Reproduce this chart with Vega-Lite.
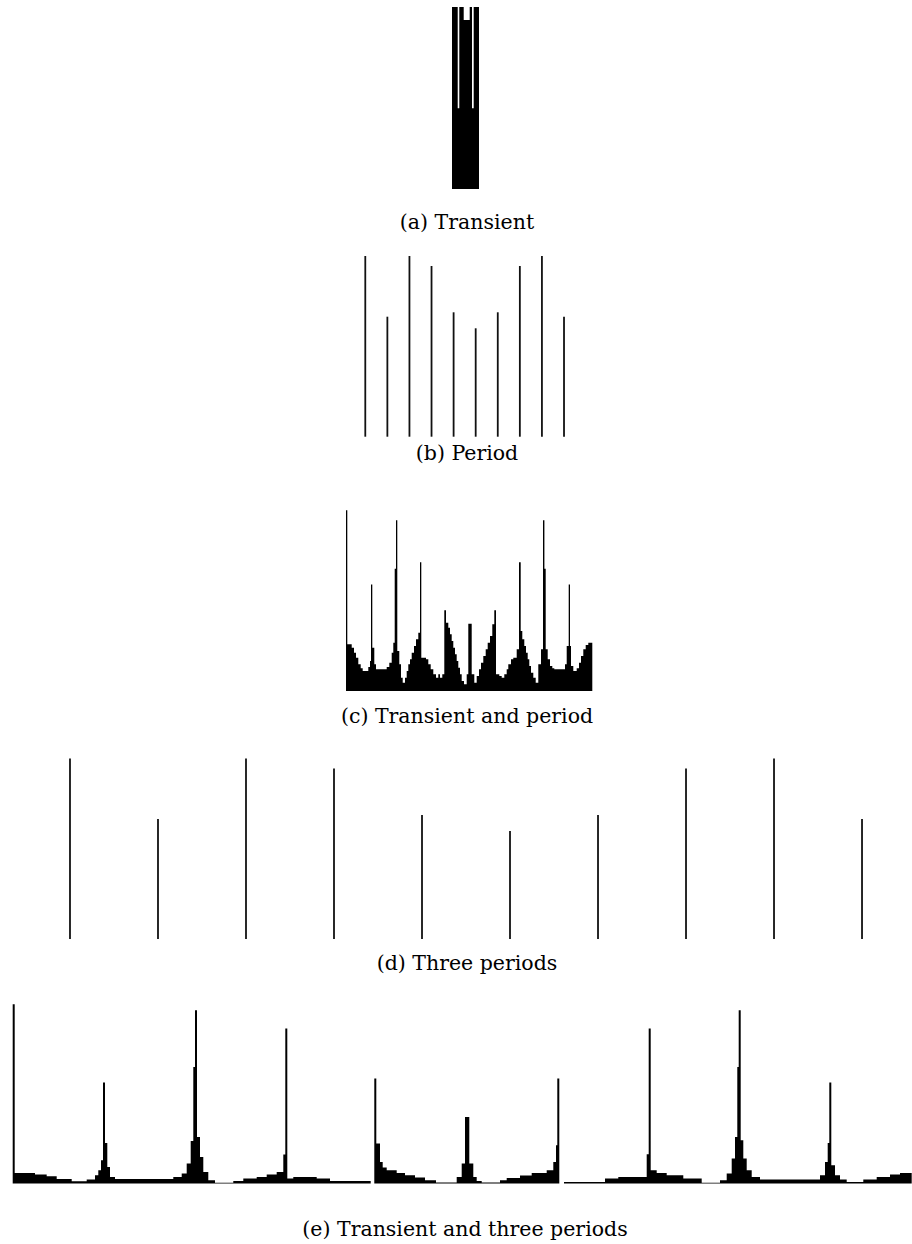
{
  "$schema": "https://vega.github.io/schema/vega-lite/v6.json",
  "background": "white",
  "padding": {"left": 12, "top": 7, "right": 0, "bottom": 0},
  "spacing": 0,
  "bounds": "flush",
  "config": {
    "view": {"stroke": null},
    "title": {"font": "DejaVu Serif", "fontSize": 20.5, "fontWeight": "normal", "color": "#000000", "orient": "bottom", "anchor": "middle"}
  },
  "vconcat": [
    {
      "width": 900,
      "height": 182,
      "title": {"text": "(a) Transient", "offset": 23.8, "dx": 5},
      "data": {"values": [
        {"x": 0, "n": 182},
        {"x": 5.7, "n": 80.7},
        {"x": 7.3, "n": 182},
        {"x": 11.7, "n": 169},
        {"x": 17.7, "n": 182},
        {"x": 20, "n": 80.7},
        {"x": 21.7, "n": 182},
        {"x": 27, "n": 182}
      ]},
      "mark": {"type": "area", "interpolate": "step-after", "color": "#000000", "opacity": 1},
      "encoding": {
        "x": {"field": "x", "type": "quantitative", "scale": {"domain": [-440, 460], "nice": false, "zero": false}, "axis": null},
        "y": {"field": "n", "type": "quantitative", "stack": null, "scale": {"domain": [0, 182], "nice": false}, "axis": null}
      }
    },
    {
      "width": 900,
      "height": 247.7,
      "title": {"text": "(b) Period", "offset": 6.1, "dx": 5},
      "data": {"values": [
        {"i": 0, "n": 180.7}, {"i": 1, "n": 120}, {"i": 2, "n": 180.7}, {"i": 3, "n": 170.7}, {"i": 4, "n": 124.4},
        {"i": 5, "n": 108.4}, {"i": 6, "n": 124.4}, {"i": 7, "n": 170.7}, {"i": 8, "n": 180.7}, {"i": 9, "n": 120}
      ]},
      "mark": {"type": "rule", "color": "#111111", "strokeWidth": 1.8},
      "encoding": {
        "x": {"field": "i", "type": "quantitative", "scale": {"domain": [-16, 24.76], "nice": false, "zero": false}, "axis": null},
        "y": {"field": "n", "type": "quantitative", "scale": {"domain": [0, 247.7], "nice": false}, "axis": null},
        "y2": {"datum": 0}
      }
    },
    {
      "width": 900,
      "height": 254,
      "title": {"text": "(c) Transient and period", "offset": 16.1, "dx": 5},
      "data": {"values": [
        {"x": 0, "n": 180.7},
        {"x": 1.3, "n": 46.7},
        {"x": 5.7, "n": 43.3},
        {"x": 8, "n": 38.3},
        {"x": 10, "n": 33.3},
        {"x": 12.3, "n": 26.7},
        {"x": 14.7, "n": 22.7},
        {"x": 16.7, "n": 20},
        {"x": 22.3, "n": 24},
        {"x": 24, "n": 30},
        {"x": 25, "n": 106.4},
        {"x": 26.3, "n": 43.3},
        {"x": 28.3, "n": 26.7},
        {"x": 30, "n": 21.7},
        {"x": 40.7, "n": 24},
        {"x": 43.3, "n": 28.3},
        {"x": 45.7, "n": 38.3},
        {"x": 47.3, "n": 48.3},
        {"x": 48.7, "n": 122.3},
        {"x": 50, "n": 170.7},
        {"x": 51.3, "n": 40},
        {"x": 53.3, "n": 26.7},
        {"x": 55, "n": 13.3},
        {"x": 56.7, "n": 8.3},
        {"x": 59, "n": 13.3},
        {"x": 60.7, "n": 20},
        {"x": 62.3, "n": 26.7},
        {"x": 64, "n": 31.7},
        {"x": 65.7, "n": 38.3},
        {"x": 68, "n": 45},
        {"x": 70, "n": 51.7},
        {"x": 72.3, "n": 58.3},
        {"x": 74, "n": 128.7},
        {"x": 75.3, "n": 33.3},
        {"x": 80, "n": 31.7},
        {"x": 82.3, "n": 26.7},
        {"x": 84.7, "n": 21.7},
        {"x": 87.3, "n": 16.7},
        {"x": 90, "n": 13.3},
        {"x": 92.3, "n": 16.7},
        {"x": 94, "n": 13.3},
        {"x": 96.3, "n": 16.7},
        {"x": 98.3, "n": 80.7},
        {"x": 100, "n": 68.3},
        {"x": 102.3, "n": 63.3},
        {"x": 104, "n": 56.7},
        {"x": 105.7, "n": 50},
        {"x": 107.3, "n": 43.3},
        {"x": 109, "n": 36.7},
        {"x": 110.7, "n": 30},
        {"x": 112.3, "n": 23.3},
        {"x": 114, "n": 16.7},
        {"x": 115.7, "n": 10},
        {"x": 118, "n": 6.7},
        {"x": 120.7, "n": 16.7},
        {"x": 122.3, "n": 67.3},
        {"x": 125.7, "n": 16.7},
        {"x": 128.3, "n": 8.3},
        {"x": 130.7, "n": 15},
        {"x": 133, "n": 21.7},
        {"x": 135, "n": 28.3},
        {"x": 137.3, "n": 35},
        {"x": 139.7, "n": 41.7},
        {"x": 141.7, "n": 48.3},
        {"x": 144, "n": 55},
        {"x": 146.3, "n": 66.7},
        {"x": 148.3, "n": 80.7},
        {"x": 150, "n": 16.7},
        {"x": 153.3, "n": 15},
        {"x": 155.7, "n": 13.3},
        {"x": 158.3, "n": 16.7},
        {"x": 160.7, "n": 21.7},
        {"x": 162.3, "n": 26.7},
        {"x": 165, "n": 31.7},
        {"x": 167.3, "n": 33.3},
        {"x": 170.7, "n": 41.7},
        {"x": 173, "n": 128.7},
        {"x": 174.7, "n": 60},
        {"x": 176.3, "n": 51.7},
        {"x": 178.3, "n": 45},
        {"x": 180, "n": 38.3},
        {"x": 181.7, "n": 31.7},
        {"x": 183.3, "n": 25},
        {"x": 185, "n": 18.3},
        {"x": 187.3, "n": 13.3},
        {"x": 189.7, "n": 8.3},
        {"x": 192.3, "n": 26.7},
        {"x": 195, "n": 41.7},
        {"x": 197, "n": 170.7},
        {"x": 198.4, "n": 122.3},
        {"x": 199.7, "n": 41.7},
        {"x": 201.7, "n": 31.7},
        {"x": 204, "n": 25},
        {"x": 206.3, "n": 22.7},
        {"x": 208.3, "n": 21.7},
        {"x": 219, "n": 26.7},
        {"x": 220.7, "n": 45},
        {"x": 222.7, "n": 106.4},
        {"x": 224, "n": 45},
        {"x": 225, "n": 25},
        {"x": 227.3, "n": 20},
        {"x": 230.7, "n": 22.7},
        {"x": 233, "n": 28.3},
        {"x": 235, "n": 35},
        {"x": 237.3, "n": 41.7},
        {"x": 239.7, "n": 46},
        {"x": 242.3, "n": 48.3},
        {"x": 246.3, "n": 48.3}
      ]},
      "mark": {"type": "area", "interpolate": "step-after", "color": "#000000", "opacity": 1},
      "encoding": {
        "x": {"field": "x", "type": "quantitative", "scale": {"domain": [-334, 566], "nice": false, "zero": false}, "axis": null},
        "y": {"field": "n", "type": "quantitative", "stack": null, "scale": {"domain": [0, 254], "nice": false}, "axis": null}
      }
    },
    {
      "width": 900,
      "height": 248,
      "title": {"text": "(d) Three periods", "offset": 14.1, "dx": 5},
      "data": {"values": [
        {"i": 0, "n": 180.4}, {"i": 1, "n": 120}, {"i": 2, "n": 180.4}, {"i": 3, "n": 170.4}, {"i": 4, "n": 124},
        {"i": 5, "n": 108}, {"i": 6, "n": 124}, {"i": 7, "n": 170.4}, {"i": 8, "n": 180.4}, {"i": 9, "n": 120}
      ]},
      "mark": {"type": "rule", "color": "#111111", "strokeWidth": 1.8},
      "encoding": {
        "x": {"field": "i", "type": "quantitative", "scale": {"domain": [-0.659, 9.568], "nice": false, "zero": false}, "axis": null},
        "y": {"field": "n", "type": "quantitative", "scale": {"domain": [0, 248], "nice": false}, "axis": null},
        "y2": {"datum": 0}
      }
    },
    {
      "width": 900,
      "height": 244.6,
      "title": {"text": "(e) Transient and three periods", "offset": 36.5, "dx": 3},
      "data": {"values": [
        {"part": 1, "x": 0.7, "n": 179.3},
        {"part": 1, "x": 2.7, "n": 10.7},
        {"part": 1, "x": 23, "n": 9},
        {"part": 1, "x": 34.7, "n": 7.3},
        {"part": 1, "x": 44.7, "n": 4.7},
        {"part": 1, "x": 59.7, "n": 2.3},
        {"part": 1, "x": 74.7, "n": 4},
        {"part": 1, "x": 83, "n": 8.3},
        {"part": 1, "x": 86.3, "n": 13.3},
        {"part": 1, "x": 89, "n": 23.3},
        {"part": 1, "x": 91, "n": 101},
        {"part": 1, "x": 93, "n": 40.7},
        {"part": 1, "x": 95.3, "n": 16.7},
        {"part": 1, "x": 98, "n": 6.7},
        {"part": 1, "x": 103, "n": 4.7},
        {"part": 1, "x": 161.3, "n": 6.7},
        {"part": 1, "x": 169.7, "n": 10},
        {"part": 1, "x": 174.7, "n": 20},
        {"part": 1, "x": 178.7, "n": 42.7},
        {"part": 1, "x": 181.3, "n": 116.7},
        {"part": 1, "x": 183, "n": 173.3},
        {"part": 1, "x": 185, "n": 46.7},
        {"part": 1, "x": 188, "n": 26.7},
        {"part": 1, "x": 191.3, "n": 11.7},
        {"part": 1, "x": 196.3, "n": 3.3},
        {"part": 1, "x": 203, "n": 0.9},
        {"part": 1, "x": 221.3, "n": 2.7},
        {"part": 1, "x": 231.3, "n": 5},
        {"part": 1, "x": 244.7, "n": 6.7},
        {"part": 1, "x": 254.7, "n": 9},
        {"part": 1, "x": 264.7, "n": 11.7},
        {"part": 1, "x": 271.3, "n": 29},
        {"part": 1, "x": 273.3, "n": 155},
        {"part": 1, "x": 275.3, "n": 5},
        {"part": 1, "x": 281.3, "n": 6.7},
        {"part": 1, "x": 304.7, "n": 5},
        {"part": 1, "x": 318, "n": 2.5},
        {"part": 1, "x": 358.7, "n": 2.5},
        {"part": 2, "x": 362.3, "n": 105},
        {"part": 2, "x": 364.3, "n": 40},
        {"part": 2, "x": 368, "n": 21.7},
        {"part": 2, "x": 370.7, "n": 16},
        {"part": 2, "x": 374.7, "n": 13.3},
        {"part": 2, "x": 384.7, "n": 10.7},
        {"part": 2, "x": 393, "n": 8.3},
        {"part": 2, "x": 403, "n": 6},
        {"part": 2, "x": 413, "n": 3.3},
        {"part": 2, "x": 424, "n": 1.2},
        {"part": 2, "x": 444.7, "n": 6.7},
        {"part": 2, "x": 449.7, "n": 20},
        {"part": 2, "x": 453, "n": 66.7},
        {"part": 2, "x": 457.3, "n": 20},
        {"part": 2, "x": 461.3, "n": 6.7},
        {"part": 2, "x": 464.7, "n": 2.7},
        {"part": 2, "x": 469.7, "n": 1.2},
        {"part": 2, "x": 488, "n": 3.3},
        {"part": 2, "x": 494.7, "n": 5.7},
        {"part": 2, "x": 508, "n": 8},
        {"part": 2, "x": 519.7, "n": 10.7},
        {"part": 2, "x": 534.7, "n": 13.3},
        {"part": 2, "x": 541.3, "n": 21.7},
        {"part": 2, "x": 544, "n": 38.3},
        {"part": 2, "x": 545.3, "n": 105},
        {"part": 2, "x": 547.3, "n": 105},
        {"part": 3, "x": 552, "n": 1.7},
        {"part": 3, "x": 593, "n": 5},
        {"part": 3, "x": 606.3, "n": 6.7},
        {"part": 3, "x": 634.7, "n": 29.3},
        {"part": 3, "x": 636.7, "n": 155},
        {"part": 3, "x": 638.7, "n": 13.3},
        {"part": 3, "x": 644.7, "n": 10.7},
        {"part": 3, "x": 654.7, "n": 8.3},
        {"part": 3, "x": 671.3, "n": 5},
        {"part": 3, "x": 689.7, "n": 0.9},
        {"part": 3, "x": 708, "n": 3.3},
        {"part": 3, "x": 714.7, "n": 10},
        {"part": 3, "x": 719.7, "n": 25},
        {"part": 3, "x": 723, "n": 46.7},
        {"part": 3, "x": 725.3, "n": 116.7},
        {"part": 3, "x": 726.7, "n": 173.3},
        {"part": 3, "x": 728.7, "n": 43.3},
        {"part": 3, "x": 731.3, "n": 25},
        {"part": 3, "x": 734.7, "n": 13.3},
        {"part": 3, "x": 739.7, "n": 6.7},
        {"part": 3, "x": 748, "n": 4},
        {"part": 3, "x": 808, "n": 8.3},
        {"part": 3, "x": 813, "n": 21.7},
        {"part": 3, "x": 815.7, "n": 40.7},
        {"part": 3, "x": 817.3, "n": 101},
        {"part": 3, "x": 819.3, "n": 18.3},
        {"part": 3, "x": 823, "n": 8.3},
        {"part": 3, "x": 828, "n": 4},
        {"part": 3, "x": 834.7, "n": 1.7},
        {"part": 3, "x": 851.3, "n": 4},
        {"part": 3, "x": 864.7, "n": 6.7},
        {"part": 3, "x": 878, "n": 9},
        {"part": 3, "x": 888, "n": 10.7},
        {"part": 3, "x": 899.7, "n": 10.7}
      ]},
      "mark": {"type": "area", "interpolate": "step-after", "color": "#000000", "opacity": 1},
      "encoding": {
        "x": {"field": "x", "type": "quantitative", "scale": {"domain": [0, 900], "nice": false, "zero": false}, "axis": null},
        "y": {"field": "n", "type": "quantitative", "stack": null, "scale": {"domain": [0, 244.6], "nice": false}, "axis": null},
        "detail": {"field": "part", "type": "nominal"}
      }
    }
  ]
}
